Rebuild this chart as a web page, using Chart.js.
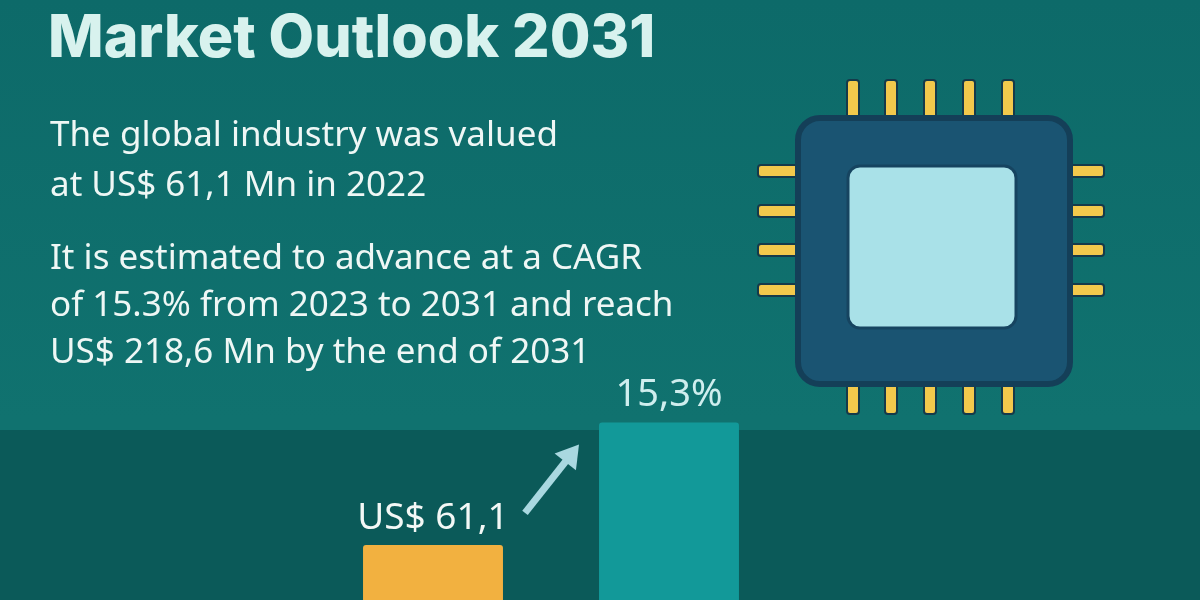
<!DOCTYPE html>
<html>
<head>
<meta charset="utf-8">
<script src="https://cdn.jsdelivr.net/npm/chart.js@4.4.1/dist/chart.umd.min.js"></script>
<style>
  html, body { margin: 0; padding: 0; }
  body { width: 1200px; height: 600px; overflow: hidden; position: relative;
    background: linear-gradient(180deg, #0d6a69 0%, #10726f 70%); font-family: "Noto Sans", sans-serif; }
  #band { position: absolute; left: 0; top: 430px; width: 1200px; height: 170px; background: #0b5a59; }
  #chartBox { position: absolute; left: 0; top: 0; width: 1200px; height: 600px; }
  .txt { position: absolute; color: #eef7f5; white-space: nowrap; }
  #title { left: 48px; top: 0px; font: 800 59px Inter, sans-serif; color: #d8f2ee; }
  .para { left: 50px; font-size: 35px; line-height: 50px; }
</style>
</head>
<body>
<div id="band"></div>
<div id="chartBox"><canvas id="chart" width="1200" height="600"></canvas></div>
<div class="txt" id="title">Market Outlook 2031</div>
<div class="txt para" style="top:108px">The global industry was valued<br>at US$ 61,1 Mn in 2022</div>
<div class="txt para" style="top:232px;line-height:47px">It is estimated to advance at a CAGR<br>of 15.3% from 2023 to 2031 and reach<br>US$ 218,6 Mn by the end of 2031</div>
<script>
const categories = ["", "2022", "2031", ""];
const marketValues = [null, 61.1, 197, null];
const barLabels = ["", "US$ 61,1", "15,3%", ""];
const barColors = ["#000", "#f2b140", "#129999", "#000"];

const decor = {
  id: "decor",
  afterDatasetsDraw(chart) {
    const ctx = chart.ctx;
    const meta = chart.getDatasetMeta(0);
    // labels above bars
    ctx.save();
    ctx.textAlign = "center";
    ctx.textBaseline = "bottom";
    meta.data.forEach((bar, i) => {
      if (!barLabels[i]) return;
      ctx.font = (i === 1 ? "37px" : "38px") + " 'Noto Sans', sans-serif";
      ctx.fillStyle = i === 1 ? "#f3f8f6" : "#cfeeee";
      ctx.fillText(barLabels[i], bar.x, bar.y - 8);
    });
    // arrow
    const a = meta.data[1], b = meta.data[2];
    const x1 = a.x + 92, y1 = a.y - 32, x2 = b.x - 90, y2 = b.y + 22;
    const ang = Math.atan2(y2 - y1, x2 - x1);
    ctx.strokeStyle = "#a9d8e0";
    ctx.fillStyle = "#a9d8e0";
    ctx.lineWidth = 7;
    ctx.beginPath();
    ctx.moveTo(x1, y1);
    ctx.lineTo(x2 - 14 * Math.cos(ang), y2 - 14 * Math.sin(ang));
    ctx.stroke();
    ctx.beginPath();
    ctx.moveTo(x2, y2);
    ctx.lineTo(x2 - 26 * Math.cos(ang - 0.55), y2 - 26 * Math.sin(ang - 0.55));
    ctx.lineTo(x2 - 26 * Math.cos(ang + 0.55), y2 - 26 * Math.sin(ang + 0.55));
    ctx.closePath();
    ctx.fill();
    // chip
    const pin = (x, y, w, h) => {
      ctx.fillStyle = "#f2c94c";
      ctx.strokeStyle = "#153a4a";
      ctx.lineWidth = 2;
      ctx.beginPath();
      ctx.roundRect(x, y, w, h, 3);
      ctx.fill();
      ctx.stroke();
    };
    [853, 891, 930, 969, 1008].forEach((x) => {
      pin(x - 6, 80, 12, 40);
      pin(x - 6, 380, 12, 34);
    });
    [171, 211, 250, 290].forEach((y) => {
      pin(758, y - 6, 44, 12);
      pin(1064, y - 6, 40, 12);
    });
    ctx.fillStyle = "#1a5472";
    ctx.strokeStyle = "#143f58";
    ctx.lineWidth = 6;
    ctx.beginPath();
    ctx.roundRect(798, 118, 272, 266, 22);
    ctx.fill();
    ctx.stroke();
    ctx.fillStyle = "#a9e1e8";
    ctx.strokeStyle = "#164460";
    ctx.lineWidth = 3;
    ctx.beginPath();
    ctx.roundRect(848, 166, 168, 162, 12);
    ctx.fill();
    ctx.stroke();
    ctx.restore();
  }
};

new Chart(document.getElementById("chart"), {
  type: "bar",
  data: {
    labels: categories,
    datasets: [{ data: marketValues, backgroundColor: barColors, borderRadius: { topLeft: 3, topRight: 3 },
      barPercentage: 0.593, categoryPercentage: 1 }]
  },
  options: {
    responsive: false,
    animation: false,
    layout: { padding: { left: 79, right: 177, top: 0, bottom: 0 } },
    plugins: { legend: { display: false }, tooltip: { enabled: false } },
    scales: {
      x: { display: false },
      y: { display: false, min: 0, max: 666 }
    }
  },
  plugins: [decor]
});
</script>
</body>
</html>
